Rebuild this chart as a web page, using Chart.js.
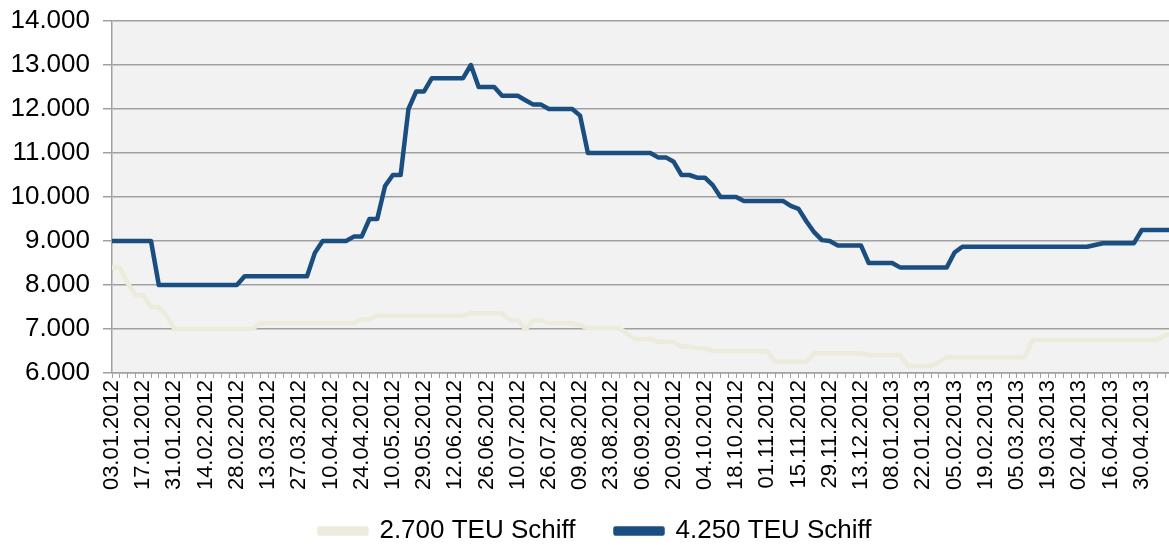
<!DOCTYPE html>
<html>
<head>
<meta charset="utf-8">
<script src="https://cdn.jsdelivr.net/npm/chart.js@4/dist/chart.umd.min.js"></script>
<style>
  html, body { margin: 0; padding: 0; background: #ffffff; overflow: hidden; }
  #wrap { width: 1181px; height: 554px; }
</style>
</head>
<body>
<div id="wrap"><canvas id="c" width="1181" height="554"></canvas></div>
<script>
// Tick labels shown every 4th category (twice-weekly observations)
const tickLabels = [
  '03.01.2012','17.01.2012','31.01.2012','14.02.2012','28.02.2012','13.03.2012',
  '27.03.2012','10.04.2012','24.04.2012','10.05.2012','29.05.2012','12.06.2012',
  '26.06.2012','10.07.2012','26.07.2012','09.08.2012','23.08.2012','06.09.2012',
  '20.09.2012','04.10.2012','18.10.2012','01.11.2012','15.11.2012','29.11.2012',
  '13.12.2012','08.01.2013','22.01.2013','05.02.2013','19.02.2013','05.03.2013',
  '19.03.2013','02.04.2013','16.04.2013','30.04.2013'
];

const seriesNames = ['2.700 TEU Schiff', '4.250 TEU Schiff'];

// 2.700 TEU Schiff
const teu2700 = [
  8400,8400,8050,7770,7770,7500,7500,7300,
  7000,7000,7000,7000,7000,7000,7000,7000,7000,7000,7000,
  7130,7130,7130,7130,7130,7130,7130,7130,7130,7130,7130,7130,7130,
  7220,7220,
  7300,7300,7300,7300,7300,7300,7300,7300,7300,7300,7300,7300,
  7360,7360,7360,7360,7360,
  7200,7200,6990,7200,7200,
  7130,7130,7130,7130,
  7080,
  7020,7020,7020,7020,7020,
  6900,
  6770,6770,6770,
  6710,6710,6710,
  6600,6600,6560,6560,
  6500,6500,6500,6500,6500,6500,6500,6500,
  6260,6260,6260,6260,6260,
  6450,6450,6450,6450,6450,6450,6450,
  6410,6410,6410,6410,6410,
  6160,6160,6160,6160,
  6250,
  6360,6360,6360,6360,6360,6360,6360,6360,6360,6360,6360,
  6750,6750,6750,6750,6750,6750,6750,6750,6750,6750,6750,6750,6750,6750,6750,6750,6750,
  6860,6900
];

// 4.250 TEU Schiff
const teu4250 = [
  9000,9000,9000,9000,9000,9000,
  8000,8000,8000,8000,8000,8000,8000,8000,8000,8000,8000,
  8200,8200,8200,8200,8200,8200,8200,8200,8200,
  8730,
  9000,9000,9000,9000,
  9100,9100,
  9500,9500,
  10250,10500,10500,
  12000,12400,12400,
  12700,12700,12700,12700,12700,
  13000,
  12500,12500,12500,
  12300,12300,12300,
  12200,12100,12100,
  12000,12000,12000,12000,
  11850,
  11000,11000,11000,11000,11000,11000,11000,11000,11000,
  10900,10900,10800,
  10500,10500,10440,10440,
  10270,
  10000,10000,10000,
  9910,9910,9910,9910,9910,9910,
  9800,9730,9450,9200,9020,9000,
  8900,8900,8900,8900,
  8500,8500,8500,8500,
  8400,8400,8400,8400,8400,8400,8400,
  8740,
  8870,8870,8870,8870,8870,8870,8870,8870,8870,8870,8870,8870,8870,8870,8870,8870,8870,
  8910,
  8950,8950,8950,8950,8950,
  9250,9250,9250,9250,9250
];

const yTicks = { min: 6000, max: 14000, step: 1000 };

const categories = teu4250.map((_, i) => (i % 4 === 0 && tickLabels[i / 4]) ? tickLabels[i / 4] : '');

const GRID = '#a0a0a0';
const FONT = 'Liberation Sans, Arial, sans-serif';

const plotBg = {
  id: 'plotBg',
  beforeDraw(chart) {
    const a = chart.chartArea, ctx = chart.ctx;
    ctx.save();
    ctx.fillStyle = '#f2f2f2';
    ctx.fillRect(a.left, a.top, a.right - a.left, a.bottom - a.top);
    ctx.restore();
  }
};

// nudge legend to the right and let rotated x labels extend below the axis box
const layoutTweak = {
  id: 'layoutTweak',
  afterLayout(chart) {
    chart.legend.left += 9;
    chart.legend.right += 9;
    const x = chart.scales.x;
    x.bottom = x.top + 130;
  }
};

function fmt(v) {
  return String(v).replace(/\B(?=(\d{3})+(?!\d))/g, '.');
}

new Chart(document.getElementById('c'), {
  type: 'line',
  data: {
    labels: categories,
    datasets: [
      {
        label: seriesNames[0],
        data: teu2700,
        borderColor: '#ecebdc',
        backgroundColor: '#ecebdc',
        borderWidth: 4.5,
        pointRadius: 0,
        tension: 0,
        borderJoinStyle: 'round'
      },
      {
        label: seriesNames[1],
        data: teu4250,
        borderColor: '#1b4e80',
        backgroundColor: '#1b4e80',
        borderWidth: 4.5,
        pointRadius: 0,
        tension: 0,
        borderJoinStyle: 'round'
      }
    ]
  },
  options: {
    responsive: false,
    animation: false,
    devicePixelRatio: 1,
    layout: { padding: { top: 21, right: 8, left: 0, bottom: 0 } },
    plugins: {
      tooltip: { enabled: false },
      legend: {
        position: 'bottom',
        labels: {
          font: { family: FONT, size: 26 },
          color: '#000',
          boxWidth: 47,
          boxHeight: 5,
          padding: 40
        }
      }
    },
    scales: {
      x: {
        type: 'category',
        offset: false,
        grid: {
          drawOnChartArea: false,
          drawTicks: true,
          tickLength: 5,
          color: GRID,
          lineWidth: 1
        },
        border: { display: true, color: GRID, width: 1.5 },
        ticks: {
          autoSkip: false,
          maxRotation: 90,
          minRotation: 90,
          padding: 2,
          color: '#000',
          font: { family: FONT, size: 22 },
          callback: function (v, i) { return categories[i]; }
        },
        afterFit(s) { s.height = 105; s.paddingLeft = 0; s.paddingRight = 0; }
      },
      y: {
        min: yTicks.min,
        max: yTicks.max,
        grid: {
          color: GRID,
          lineWidth: 1.5,
          drawTicks: true,
          tickLength: 9
        },
        border: { display: true, color: GRID, width: 1.5 },
        ticks: {
          stepSize: yTicks.step,
          padding: 13,
          color: '#000',
          font: { family: FONT, size: 26 },
          callback: (v) => fmt(v)
        },
        afterFit(s) { s.width = 112; s.paddingTop = 0; s.paddingBottom = 0; }
      }
    }
  },
  plugins: [plotBg, layoutTweak]
});
</script>
</body>
</html>
